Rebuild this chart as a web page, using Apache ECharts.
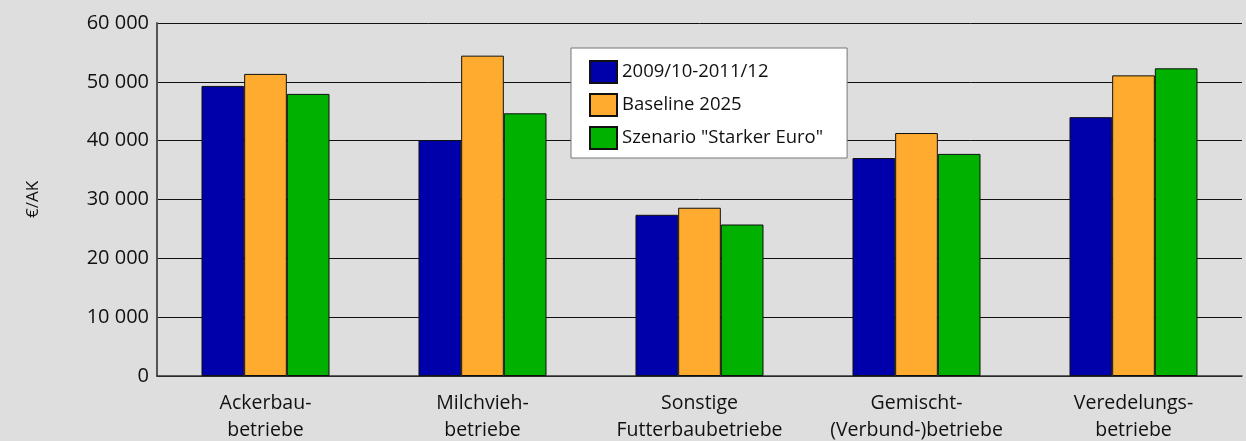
<!DOCTYPE html>
<html><head><meta charset="utf-8">
<script src="https://cdn.jsdelivr.net/npm/echarts@6/dist/echarts.min.js"></script>
<style>html,body{margin:0;padding:0;background:#dedede;overflow:hidden}#c{width:1246px;height:441px}</style>
</head><body><div id="c"></div>
<script>
const categories = ["Ackerbau-\nbetriebe","Milchvieh-\nbetriebe","Sonstige\nFutterbaubetriebe","Gemischt-\n(Verbund-)betriebe","Veredelungs-\nbetriebe"];
const seriesNames = ["2009/10-2011/12","Baseline 2025","Szenario \"Starker Euro\""];
const base = [49300, 40100, 27400, 37050, 44000];
const baseline2025 = [51350, 54450, 28600, 41300, 51100];
const starkerEuro = [47950, 44650, 25750, 37750, 52300];
const yTicks = [0,10000,20000,30000,40000,50000,60000];
const colors = ["#0000aa","#ffab2f","#00b100"];
const font = "'Open Sans', 'Liberation Sans', sans-serif";
const chart = echarts.init(document.getElementById('c'));
const fmt = v => v === 0 ? "0" : String(v).replace(/\B(?=(\d{3})+(?!\d))/g, " ");
chart.setOption({
  backgroundColor: "#dedede",
  animation: false,
  legend: {
    orient: "vertical", left: 571, top: 48,
    backgroundColor: "#ffffff", borderColor: "#777", borderWidth: 1,
    padding: [12, 24, 8, 18],
    itemWidth: 27, itemHeight: 22, itemGap: 9,
    textStyle: {fontFamily: font, fontSize: 18.5, color: "#111"},
    icon: "rect",
    data: seriesNames
  },
  grid: {left: 157, right: 4, top: 23, bottom: 65, containLabel: false, outerBoundsMode: "none"},
  xAxis: {
    type: "category", data: categories,
    axisLine: {lineStyle: {color: "#333", width: 1.5}},
    axisTick: {show: false},
    axisLabel: {fontFamily: font, fontSize: 19.5, color: "#111", lineHeight: 27, margin: 14, interval: 0}
  },
  yAxis: {
    type: "value", min: 0, max: 60000, interval: 10000,
    name: "€/AK", nameLocation: "middle", nameGap: 115, nameRotate: 90,
    nameTextStyle: {fontFamily: font, fontSize: 17, color: "#111"},
    axisLine: {show: true, lineStyle: {color: "#555", width: 2}},
    axisTick: {show: false},
    splitLine: {lineStyle: {color: "#111", width: 1}},
    axisLabel: {fontFamily: font, fontSize: 20, color: "#111", margin: 8, formatter: v => yTicks.includes(v) ? fmt(v) : ""}
  },
  series: [base, baseline2025, starkerEuro].map((d, i) => ({
    name: seriesNames[i], type: "bar", data: d,
    barGap: "0%", barCategoryGap: "41%",
    itemStyle: {color: colors[i], borderColor: "#111", borderWidth: 1}
  }))
});
</script></body></html>
